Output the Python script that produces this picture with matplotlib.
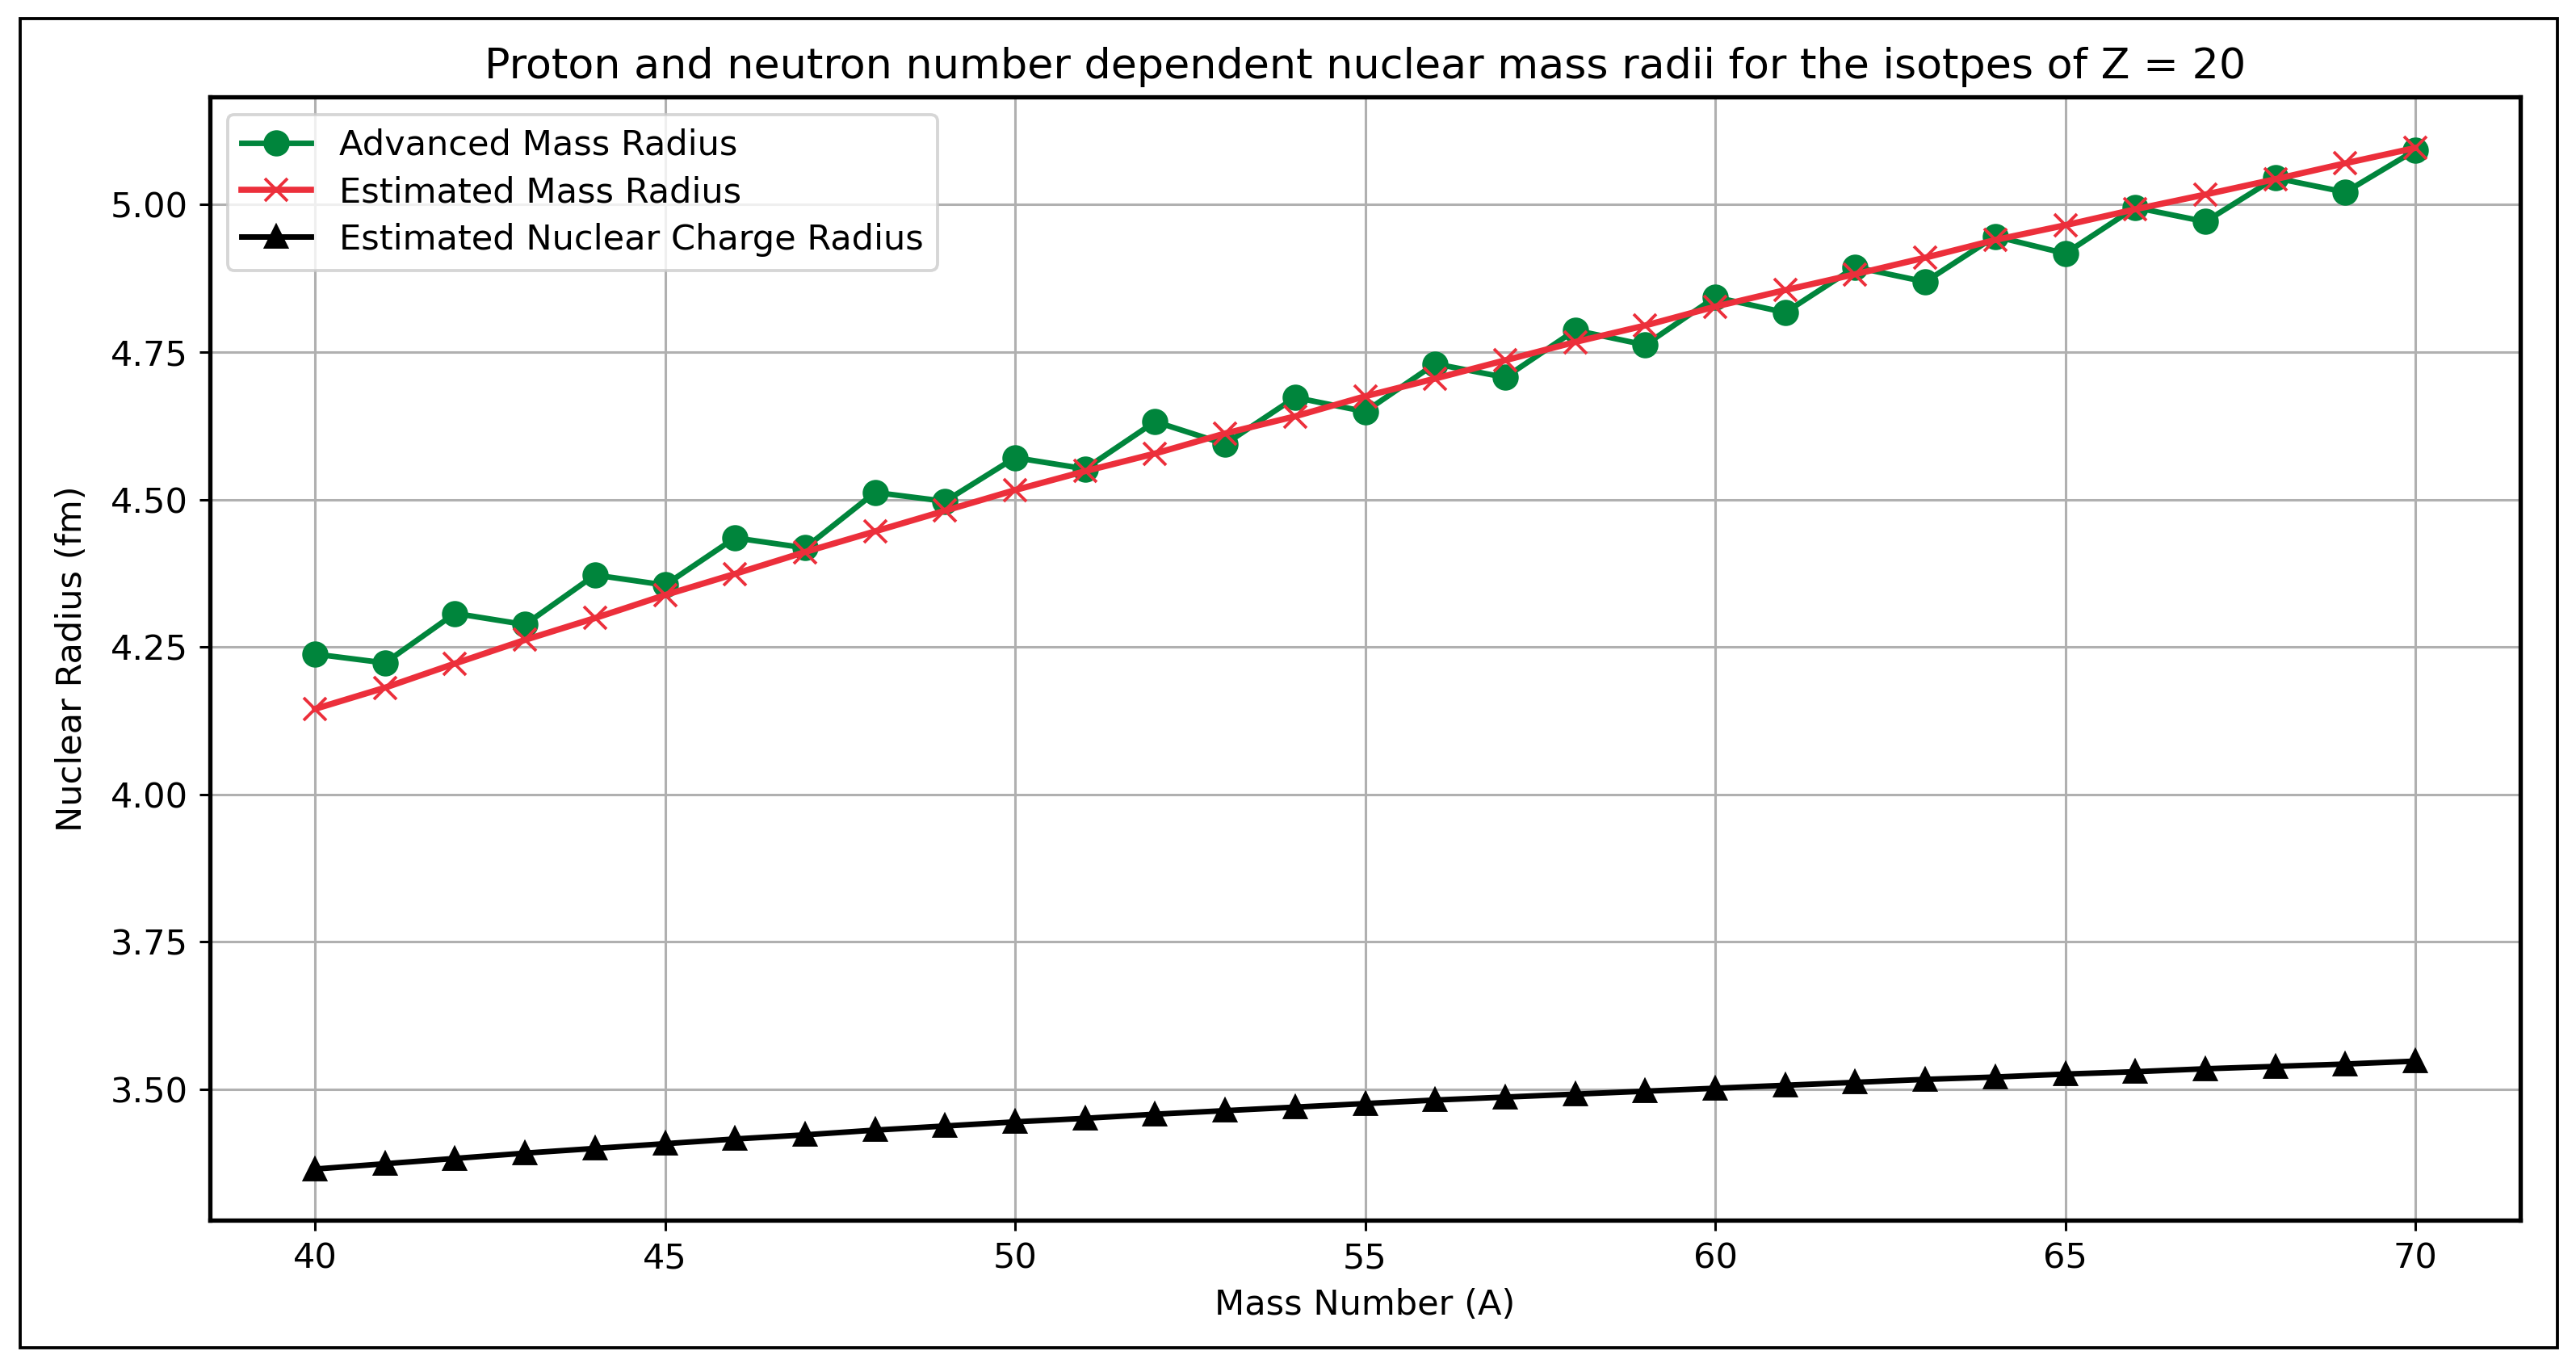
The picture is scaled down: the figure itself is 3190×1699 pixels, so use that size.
import matplotlib
matplotlib.use('Agg')
import matplotlib.pyplot as plt
from matplotlib.patches import Rectangle

# isotopes of Z = 20, A = 40..70
mass_number = [40, 41, 42, 43, 44, 45, 46, 47, 48, 49, 50,
               51, 52, 53, 54, 55, 56, 57, 58, 59, 60,
               61, 62, 63, 64, 65, 66, 67, 68, 69, 70]

advanced_mass = [4.238, 4.223, 4.307, 4.288, 4.372, 4.355, 4.435, 4.418, 4.512, 4.497, 4.571,
                 4.552, 4.632, 4.594, 4.673, 4.649, 4.730, 4.707, 4.787, 4.762, 4.843,
                 4.817, 4.894, 4.869, 4.946, 4.917, 4.995, 4.971, 5.045, 5.021, 5.092]

estimated_mass = [4.145, 4.181, 4.222, 4.262, 4.299, 4.338, 4.374, 4.411, 4.446, 4.481, 4.516,
                  4.548, 4.578, 4.612, 4.641, 4.675, 4.705, 4.736, 4.767, 4.795, 4.827,
                  4.855, 4.882, 4.910, 4.940, 4.965, 4.992, 5.017, 5.043, 5.070, 5.096]

estimated_charge = [3.365, 3.374, 3.383, 3.392, 3.400, 3.408, 3.416, 3.423, 3.431, 3.438, 3.445,
                    3.451, 3.458, 3.464, 3.470, 3.476, 3.482, 3.487, 3.492, 3.497, 3.502,
                    3.507, 3.512, 3.517, 3.521, 3.526, 3.530, 3.535, 3.539, 3.543, 3.548]

GREEN = '#00853c'
RED = '#ec2f3b'

plt.rcParams.update({'font.size': 11.3})

fig, ax = plt.subplots(figsize=(3190 / 275, 1699 / 275), dpi=275)
fig.subplots_adjust(left=0.0815, right=0.9784, top=0.9294, bottom=0.1107)

ax.plot(mass_number, advanced_mass, marker='o', color=GREEN, lw=1.8, ms=7.5,
        label='Advanced Mass Radius')
ax.plot(mass_number, estimated_mass, marker='x', color=RED, lw=2.0, ms=7.5,
        label='Estimated Mass Radius')
ax.plot(mass_number, estimated_charge, marker='^', color='black', lw=1.8, ms=7,
        label='Estimated Nuclear Charge Radius')

ax.set_title('Proton and neutron number dependent nuclear mass radii for the isotpes of Z = 20',
             fontsize=13.7)
ax.set_xlabel('Mass Number (A)')
ax.set_ylabel('Nuclear Radius (fm)', labelpad=7)
ax.legend(loc='upper left', labelspacing=0.38)
ax.grid(True)
for s in ax.spines.values():
    s.set_linewidth(1.4)

# border round the whole picture
fig.patches.append(Rectangle((0.0078, 0.0177), 0.985, 0.9688, transform=fig.transFigure,
                             fill=False, edgecolor='black', lw=1.0))

plt.savefig('out.png', dpi=275, facecolor='white')
